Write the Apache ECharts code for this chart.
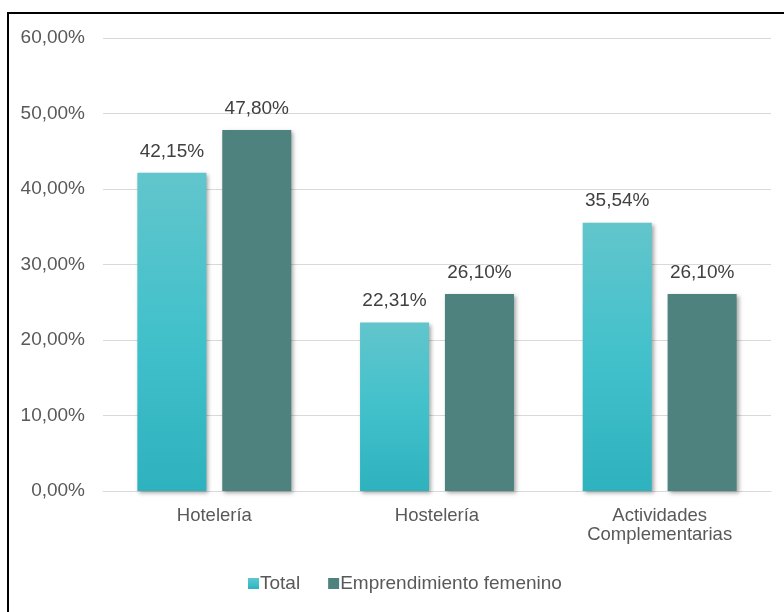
<!DOCTYPE html>
<html><head><meta charset="utf-8">
<script src="https://cdn.jsdelivr.net/npm/echarts@6/dist/echarts.min.js"></script>
<style>html,body{margin:0;padding:0;background:#fff}#c{width:784px;height:612px}</style>
</head><body><div id="c"></div>
<script>
var categories = ['Hotelería', 'Hostelería', 'Actividades\nComplementarias'];
var totalValues = [42.15, 22.31, 35.54];
var femValues = [47.80, 26.10, 26.10];
var seriesNames = ['Total', 'Emprendimiento femenino'];

function pct(v){ return v.toFixed(2).replace('.', ',') + '%'; }

var chart = echarts.init(document.getElementById('c'));
var font = 'Liberation Sans, Arial, sans-serif';
var shadow = {shadowBlur: 4, shadowOffsetX: 2, shadowOffsetY: 2, shadowColor: 'rgba(0,0,0,0.35)'};
chart.setOption({
  animation: false,
  textStyle: {fontFamily: font},
  graphic: [{type: 'rect', shape: {x: 8, y: 13, width: 900, height: 800}, style: {fill: 'none', stroke: '#000', lineWidth: 2}, z: 100}],
  grid: {left: 103, right: 13, top: 38, bottom: 121},
  legend: {
    bottom: 14, left: 243, itemWidth: 11, itemHeight: 11, itemGap: 28,
    icon: 'rect',
    textStyle: {fontSize: 19, color: '#595959', fontFamily: font, padding: [0,0,0,-4]},
    data: seriesNames
  },
  xAxis: {
    type: 'category', data: categories,
    axisLine: {lineStyle: {color: '#d9d9d9', width: 1}},
    axisTick: {show: false},
    axisLabel: {fontSize: 18.5, color: '#595959', margin: 15, lineHeight: 19, fontFamily: font}
  },
  yAxis: {
    type: 'value', min: 0, max: 60, interval: 10,
    axisLine: {show: false}, axisTick: {show: false},
    splitLine: {lineStyle: {color: '#d9d9d9'}},
    axisLabel: {fontSize: 19, color: '#595959', margin: 18, fontFamily: font, formatter: function(v){return pct(v);}}
  },
  series: [
    {name: seriesNames[0], type: 'bar', data: totalValues, barWidth: '31%', barGap: '23%',
     itemStyle: Object.assign({color: new echarts.graphic.LinearGradient(0,0,0,1,[{offset:0,color:'#62c5cc'},{offset:0.5,color:'#42c1cb'},{offset:1,color:'#2eb2be'}])}, shadow),
     label: {show: true, position: 'top', distance: 12, fontSize: 19, color: '#404040', fontFamily: font, formatter: function(p){return pct(p.value);}}},
    {name: seriesNames[1], type: 'bar', data: femValues, barWidth: '31%',
     itemStyle: Object.assign({color: '#4e827f'}, shadow),
     label: {show: true, position: 'top', distance: 12, fontSize: 19, color: '#404040', fontFamily: font, formatter: function(p){return pct(p.value);}}}
  ]
});
</script></body></html>
